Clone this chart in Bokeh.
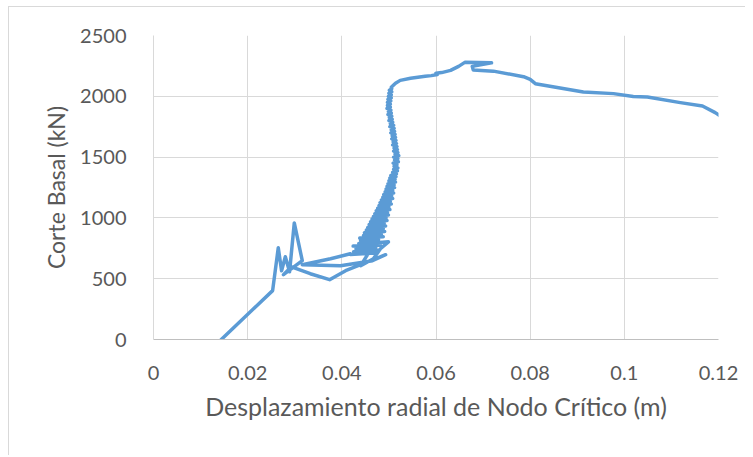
from bokeh.plotting import figure
from bokeh.layouts import column
from bokeh.models import FixedTicker, Range1d
from bokeh.embed import file_html
from bokeh.resources import INLINE

# Displacement (m) / base shear (kN), in four stretches
tramo1_x = [0.0144, 0.0253, 0.0265, 0.0272, 0.0280, 0.0289, 0.0299, 0.0316, 0.0276, 0.0293,
            0.0333, 0.0374, 0.0408, 0.0493, 0.0465, 0.0397, 0.0316, 0.0376, 0.0418]
tramo1_y = [0, 402, 754, 566, 680, 557, 959, 648, 533, 598,
            541, 492, 566, 697, 648, 607, 615, 664, 705]

tramo2_x = [0.0418, 0.0470, 0.0425, 0.0478, 0.0430, 0.0472, 0.0424, 0.0482, 0.0436, 0.0486,
            0.0499, 0.0482, 0.0467, 0.0440, 0.0455, 0.0440, 0.0478, 0.0438, 0.0488, 0.0446,
            0.0484, 0.0448, 0.0491, 0.0452, 0.0488, 0.0455, 0.0493, 0.0458, 0.0490, 0.0461,
            0.0496, 0.0464, 0.0494, 0.0467, 0.0499, 0.0470, 0.0497, 0.0473, 0.0502, 0.0476,
            0.0500, 0.0479, 0.0505, 0.0481, 0.0503, 0.0484, 0.0508, 0.0487, 0.0506, 0.0489,
            0.0510, 0.0492, 0.0508, 0.0494, 0.0512, 0.0496, 0.0511, 0.0498, 0.0514, 0.0500,
            0.0513, 0.0502, 0.0515, 0.0504, 0.0516]
tramo2_y = [700, 712, 722, 735, 745, 756, 768, 778, 790, 800,
            803, 746, 664, 607, 700, 812, 822, 834, 845, 856,
            866, 878, 889, 900, 911, 922, 934, 945, 956, 968,
            979, 990, 1001, 1012, 1024, 1035, 1046, 1058, 1069, 1080,
            1091, 1102, 1114, 1125, 1136, 1148, 1159, 1170, 1181, 1192,
            1204, 1215, 1226, 1238, 1249, 1260, 1271, 1282, 1294, 1305,
            1316, 1328, 1339, 1350, 1362]

tramo3_x = [0.0508, 0.0518, 0.0510, 0.0519, 0.0511, 0.0517, 0.0509, 0.0520, 0.0512, 0.0519,
            0.0510, 0.0521, 0.0513, 0.0519, 0.0510, 0.0518, 0.0511, 0.0517, 0.0508, 0.0516,
            0.0509, 0.0515, 0.0506, 0.0514, 0.0507, 0.0513, 0.0504, 0.0512, 0.0505, 0.0511,
            0.0502, 0.0510, 0.0503, 0.0508, 0.0500, 0.0507, 0.0501, 0.0506, 0.0498, 0.0505,
            0.0499, 0.0504, 0.0496, 0.0503, 0.0497, 0.0503, 0.0497, 0.0504, 0.0498, 0.0505,
            0.0499, 0.0505, 0.0500, 0.0506, 0.0501, 0.0506]
tramo3_y = [1375, 1388, 1400, 1412, 1425, 1437, 1450, 1462, 1475, 1487,
            1500, 1512, 1525, 1537, 1550, 1562, 1575, 1587, 1600, 1612,
            1625, 1637, 1650, 1662, 1675, 1687, 1700, 1712, 1725, 1737,
            1750, 1762, 1775, 1787, 1800, 1812, 1825, 1837, 1850, 1862,
            1875, 1887, 1900, 1912, 1925, 1937, 1950, 1962, 1975, 1987,
            2000, 2012, 2025, 2037, 2050, 2062]

tramo4_x = [0.0505, 0.0514, 0.0524, 0.0546, 0.0577, 0.0590, 0.0603, 0.0600, 0.0612, 0.0631,
            0.0648, 0.0662, 0.0718, 0.0677, 0.0679, 0.0722, 0.0786, 0.0800, 0.0811, 0.0913,
            0.0977, 0.1019, 0.1049, 0.1119, 0.1166, 0.1193, 0.1208]
tramo4_y = [2074, 2107, 2131, 2148, 2164, 2170, 2180, 2190, 2195, 2213,
            2246, 2281, 2275, 2246, 2217, 2207, 2161, 2139, 2104, 2035,
            2022, 1998, 1994, 1948, 1920, 1866, 1828]

desplazamiento = tramo1_x + tramo2_x + tramo3_x + tramo4_x
corte_basal = tramo1_y + tramo2_y + tramo3_y + tramo4_y

x_ticks = [0, 0.02, 0.04, 0.06, 0.08, 0.1, 0.12]
x_tick_labels = ["0", "0.02", "0.04", "0.06", "0.08", "0.1", "0.12"]
y_ticks = [0, 500, 1000, 1500, 2000, 2500]
titulo_x = "Desplazamiento radial de Nodo Crítico (m)"
titulo_y = "Corte Basal (kN)"

FONT = "Lato"
TXT = "#595959"
GRID = "#d9d9d9"

p = figure(width=706, height=448, output_backend="svg", toolbar_location=None,
           x_range=Range1d(0, 0.12), y_range=Range1d(0, 2500),
           min_border_left=0, min_border_right=27, min_border_top=28,
           min_border_bottom=116)
p.outline_line_color = None
p.styles = {"margin-left": "30px"}

p.line(desplazamiento, corte_basal, line_color="#5B9BD5", line_width=3.5,
       line_join="round", line_cap="round")

p.xaxis.ticker = FixedTicker(ticks=x_ticks)
p.xaxis.major_label_overrides = {t: l for t, l in zip(x_ticks, x_tick_labels)}
p.yaxis.ticker = FixedTicker(ticks=y_ticks)

p.xaxis.axis_label = titulo_x
p.yaxis.axis_label = titulo_y

for ax in (p.xaxis[0], p.yaxis[0]):
    ax.major_tick_line_color = None
    ax.minor_tick_line_color = None
    ax.major_label_text_font = FONT
    ax.major_label_text_font_size = "20px"
    ax.major_label_text_color = TXT
    ax.axis_label_text_font = FONT
    ax.axis_label_text_font_style = "normal"
    ax.axis_label_text_color = TXT

p.xaxis.axis_label_text_font_size = "25px"
p.yaxis.axis_label_text_font_size = "23px"
p.xaxis.axis_line_color = "#bfbfbf"
p.yaxis.axis_line_color = GRID
p.xaxis.major_label_standoff = 20
p.yaxis.major_label_standoff = 21
p.xaxis.axis_label_standoff = 8
p.yaxis.axis_label_standoff = 7

p.xgrid.grid_line_color = GRID
p.ygrid.grid_line_color = GRID

layout = column(p, styles={"margin-left": "8px", "margin-top": "6px",
                           "border-left": "1px solid #d9d9d9",
                           "border-top": "1px solid #d9d9d9"})

open("out.html", "w").write(file_html(layout, INLINE))
